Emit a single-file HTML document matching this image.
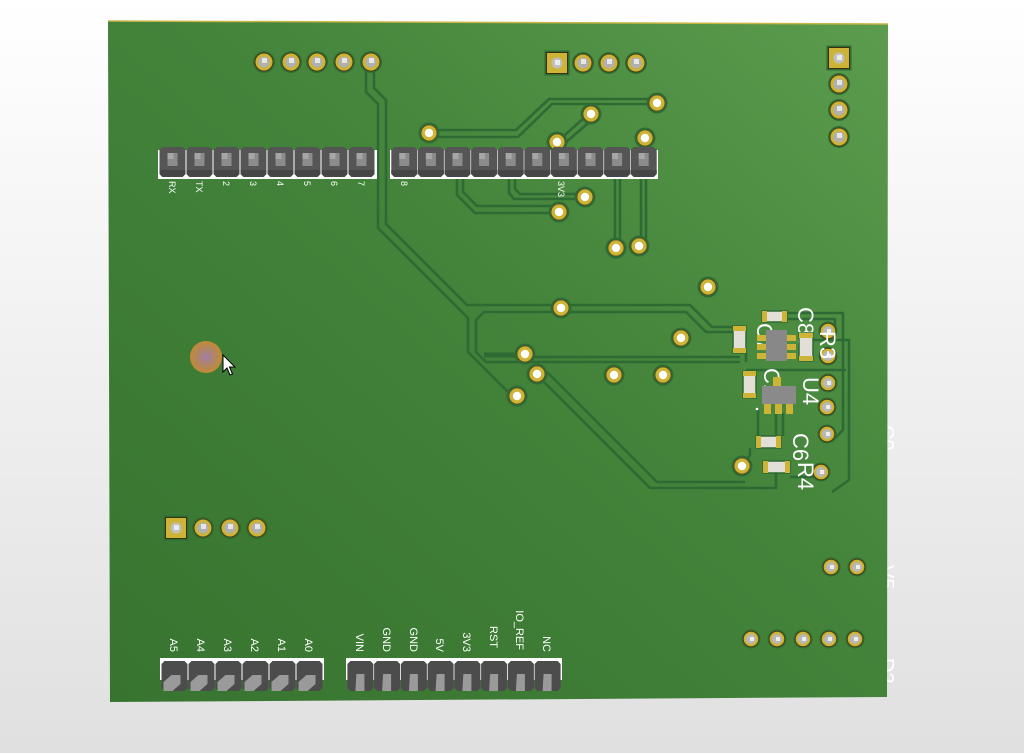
<!DOCTYPE html>
<html><head><meta charset="utf-8"><style>
html,body{margin:0;padding:0;width:1024px;height:753px;overflow:hidden;background:#eee}
svg{display:block}
text{font-family:"Liberation Sans",sans-serif;fill:#fff}
</style></head><body>
<svg width="1024" height="753" viewBox="0 0 1024 753" xmlns="http://www.w3.org/2000/svg">
<defs>
<linearGradient id="bg" x1="0" y1="0" x2="0" y2="1">
<stop offset="0" stop-color="#ffffff"/><stop offset="1" stop-color="#e0e0e0"/>
</linearGradient>
<linearGradient id="brd" x1="1" y1="0" x2="0" y2="1">
<stop offset="0" stop-color="#5c9c4e"/><stop offset="0.45" stop-color="#43833a"/><stop offset="1" stop-color="#377430"/>
</linearGradient>
<radialGradient id="blob" cx="0.5" cy="0.5" r="0.5">
<stop offset="0" stop-color="#a07ea8"/><stop offset="0.6" stop-color="#b2865e"/><stop offset="1" stop-color="#c48a34"/>
</radialGradient>
<g id="via"><circle r="10.5" fill="#2f6b35"/><circle r="8" fill="#cdb336" stroke="#5a4c14" stroke-width="0.8"/><circle r="4.2" fill="#fff"/></g>
<g id="pp"><circle r="11" fill="#2f6b35"/><circle r="9" fill="#cdb336" stroke="#4a4010" stroke-width="1"/><circle r="5.5" fill="#b0b0b0"/><rect x="-2" y="-4" width="5" height="5" fill="#e6e6e6"/></g>
<g id="ps"><circle r="9.5" fill="#2f6b35"/><circle r="7.8" fill="#cdb336" stroke="#4a4010" stroke-width="1"/><circle r="5" fill="#b8b8b8"/><rect x="-1" y="-2" width="4" height="4" fill="#eee"/></g>
<g id="sq"><rect x="-12.5" y="-12.5" width="25" height="25" fill="#2f6b35"/><rect x="-10.5" y="-10.5" width="21" height="21" fill="#cdb336" stroke="#3a3010" stroke-width="1"/><circle r="5.5" fill="#c0c0c0"/><rect x="-2" y="-3" width="5" height="5" fill="#ececec"/></g>
<g id="tp">
<polygon points="-13,-12 -10,-15 10,-15 13,-12 13,12 10,15 -10,15 -13,12" fill="#555"/>
<polygon points="-13,8 13,8 13,12 10,15 -10,15 -13,12" fill="#464646"/>
<rect x="-5" y="-9" width="10" height="13" fill="#8c8c8c"/>
<rect x="-5" y="-9" width="6" height="6" fill="#a6a6a6"/>
</g>
<g id="bpl">
<polygon points="-13,-12 -10,-15 10,-15 13,-12 13,12 10,15 -10,15 -13,12" fill="#4c4c4c"/>
<polygon points="-11,15 -11,6 -3,-1 6,-1 6,8 -2,15" fill="#9a9a9a"/>
</g>
<g id="bpr">
<polygon points="-13,-12 -10,-15 10,-15 13,-12 13,12 10,15 -10,15 -13,12" fill="#4c4c4c"/>
<polygon points="-5,15 -4,-2 4,-2 4,15" fill="#9a9a9a"/>
</g>
</defs>

<rect width="1024" height="753" fill="url(#bg)"/>

<!-- off-board labels -->
<g font-size="20">
<text transform="translate(880,425) rotate(90)">C0</text>
<text transform="translate(880,565) rotate(90)">V5</text>
<text transform="translate(880,658) rotate(90)">D2</text>
</g>

<!-- board -->
<polygon points="108,21 888,24 887,697 110,702" fill="url(#brd)"/>
<polyline points="108,21 888,24" stroke="#c9b545" stroke-width="1.5" fill="none"/>

<!-- traces -->
<g stroke="#2d6a34" stroke-width="2.6" fill="none" stroke-linejoin="round">
<path d="M366,62 V92 L378,104 V228 L468,318 V352 L510,394"/>
<path d="M374,62 V88 L386,100 V224 L467,305 H690 L712,327 H735"/>
<path d="M735,332 H706 L686,312 H484 L476,320 V352 L486,362 H740"/>
<path d="M525,357 H740"/>
<path d="M540,378 L650,488 H776 V473"/>
<path d="M547,372 L657,482 H745"/>
<path d="M429,130 H516 L549,99 H657"/>
<path d="M429,137 H518 L552,104 H650"/>
<path d="M585,117 L557,142"/>
<path d="M595,117 L563,145"/>
<path d="M457,177 V195 L475,213 H552"/>
<path d="M463,177 V192 L477,206 H552"/>
<path d="M509,177 V193 L514,199 H580"/>
<path d="M515,177 V189 L520,194 H580"/>
<path d="M615,177 V248"/><path d="M620,177 V244"/>
<path d="M641,177 V246"/><path d="M646,177 V240"/>
<path d="M787,313 H843 V430 L832,441"/>
<path d="M787,319 H835 V326"/>
<path d="M813,340 H849 V480 L832,492"/>
<path d="M746,370 H846"/>
<path d="M758,410 V440"/>
<path d="M750,448 V455 L742,466"/>
<path d="M790,477 H815 L821,472"/>
<path d="M776,413 V436"/><path d="M783,413 V436"/>
<path d="M746,352 V362"/>
</g>
<path d="M484,355 H520" stroke="#2d6a34" stroke-width="5"/>

<!-- top-left single pins -->
<use href="#pp" x="264" y="62"/><use href="#pp" x="291" y="62"/><use href="#pp" x="317" y="62"/><use href="#pp" x="344" y="62"/><use href="#pp" x="371" y="62"/>
<!-- top 4 -->
<use href="#sq" x="557" y="63"/><use href="#pp" x="583" y="63"/><use href="#pp" x="609" y="63"/><use href="#pp" x="636" y="63"/>
<!-- right column -->
<use href="#sq" x="839" y="58"/><use href="#pp" x="839" y="84"/><use href="#pp" x="839" y="110"/><use href="#pp" x="839" y="137"/>
<!-- left bottom 4 -->
<use href="#sq" x="176" y="528"/><use href="#pp" x="203" y="528"/><use href="#pp" x="230" y="528"/><use href="#pp" x="257" y="528"/>
<!-- right bottom -->
<use href="#ps" x="831" y="567"/><use href="#ps" x="857" y="567"/>
<use href="#ps" x="751" y="639"/><use href="#ps" x="777" y="639"/><use href="#ps" x="803" y="639"/><use href="#ps" x="829" y="639"/><use href="#ps" x="855" y="639"/>

<!-- vias -->
<use href="#via" x="429" y="133"/><use href="#via" x="657" y="103"/><use href="#via" x="591" y="114"/><use href="#via" x="557" y="142"/><use href="#via" x="645" y="138"/>
<use href="#via" x="585" y="197"/><use href="#via" x="559" y="212"/><use href="#via" x="616" y="248"/><use href="#via" x="639" y="246"/>
<use href="#via" x="708" y="287"/><use href="#via" x="561" y="308"/><use href="#via" x="681" y="338"/><use href="#via" x="525" y="354"/>
<use href="#via" x="537" y="374"/><use href="#via" x="517" y="396"/><use href="#via" x="614" y="375"/><use href="#via" x="663" y="375"/>
<use href="#via" x="742" y="466"/>
<use href="#ps" x="828" y="331"/><use href="#ps" x="828" y="356"/><use href="#ps" x="828" y="383"/><use href="#ps" x="827" y="407"/><use href="#ps" x="827" y="434"/><use href="#ps" x="821" y="472"/>

<!-- silkscreen labels cluster (under parts) -->
<g font-size="22">
<text transform="translate(798,307) rotate(90)">C85</text>
<text transform="translate(820,331) rotate(90)">R3</text>
<text transform="translate(757,323) rotate(90)">C7</text>
<text transform="translate(764,368) rotate(90)">C1</text>
<text transform="translate(803,377) rotate(90)">U4</text>
<text transform="translate(793,433) rotate(90)">C6</text>
<text transform="translate(798,462) rotate(90)">R4</text>
</g>

<!-- SMD parts -->
<g stroke="#2c6a33" stroke-width="1.5">
<rect x="762" y="311" width="25" height="11" fill="#e2e0d6"/>
<rect x="733" y="326" width="13" height="27" fill="#e2e0d6"/>
<rect x="799" y="333" width="14" height="28" fill="#e2e0d6"/>
<rect x="743" y="371" width="13" height="27" fill="#e2e0d6"/>
<rect x="756" y="436" width="25" height="12" fill="#e2e0d6"/>
<rect x="763" y="461" width="27" height="12" fill="#e2e0d6"/>
</g>
<g fill="#cdb336">
<rect x="762" y="311" width="5" height="11"/><rect x="782" y="311" width="5" height="11"/>
<rect x="733" y="326" width="13" height="5"/><rect x="733" y="348" width="13" height="5"/>
<rect x="799" y="333" width="14" height="5"/><rect x="799" y="356" width="14" height="5"/>
<rect x="743" y="371" width="13" height="5"/><rect x="743" y="393" width="13" height="5"/>
<rect x="756" y="436" width="5" height="12"/><rect x="776" y="436" width="5" height="12"/>
<rect x="763" y="461" width="5" height="12"/><rect x="785" y="461" width="5" height="12"/>
<rect x="757" y="335" width="10" height="6"/><rect x="757" y="344" width="10" height="6"/><rect x="757" y="353" width="10" height="6"/>
<rect x="786" y="335" width="10" height="6"/><rect x="786" y="344" width="10" height="6"/><rect x="786" y="353" width="10" height="6"/>
<rect x="773" y="377" width="8" height="10"/>
<rect x="764" y="403" width="7" height="11"/><rect x="775" y="403" width="7" height="11"/><rect x="786" y="403" width="7" height="11"/>
</g>
<rect x="766" y="330" width="21" height="31" fill="#888"/>
<rect x="762" y="386" width="34" height="18" fill="#8a8a8a"/>
<circle cx="757" cy="409" r="1.3" fill="#fff"/>

<!-- top header 1 -->
<rect x="158" y="150" width="219" height="29" fill="#fff"/>
<g>
<use href="#tp" x="172.5" y="162"/><use href="#tp" x="199.5" y="162"/><use href="#tp" x="226.5" y="162"/><use href="#tp" x="253.5" y="162"/>
<use href="#tp" x="280.5" y="162"/><use href="#tp" x="307.5" y="162"/><use href="#tp" x="334.5" y="162"/><use href="#tp" x="361.5" y="162"/>
</g>
<!-- top header 2 -->
<rect x="390" y="150" width="268" height="29" fill="#fff"/>
<g>
<use href="#tp" x="404.3" y="162"/><use href="#tp" x="430.9" y="162"/><use href="#tp" x="457.5" y="162"/><use href="#tp" x="484.1" y="162"/><use href="#tp" x="510.7" y="162"/>
<use href="#tp" x="537.3" y="162"/><use href="#tp" x="563.9" y="162"/><use href="#tp" x="590.5" y="162"/><use href="#tp" x="617.1" y="162"/><use href="#tp" x="643.7" y="162"/>
</g>
<g font-size="9">
<text transform="translate(169,181) rotate(90)">RX</text>
<text transform="translate(196,181) rotate(90)">TX</text>
<text transform="translate(223,181) rotate(90)">2</text>
<text transform="translate(250,181) rotate(90)">3</text>
<text transform="translate(277,181) rotate(90)">4</text>
<text transform="translate(304,181) rotate(90)">5</text>
<text transform="translate(331,181) rotate(90)">6</text>
<text transform="translate(358,181) rotate(90)">7</text>
<text transform="translate(401,181) rotate(90)">8</text>
<text transform="translate(558,181) rotate(90)">3V3</text>
</g>

<!-- bottom headers -->
<rect x="160" y="658" width="164" height="22" fill="#fff"/>
<use href="#bpl" x="174.5" y="676"/><use href="#bpl" x="201.5" y="676"/><use href="#bpl" x="228.5" y="676"/><use href="#bpl" x="255.5" y="676"/><use href="#bpl" x="282.5" y="676"/><use href="#bpl" x="309.5" y="676"/>
<rect x="346" y="658" width="216" height="22" fill="#fff"/>
<use href="#bpr" x="360.4" y="676"/><use href="#bpr" x="387.1" y="676"/><use href="#bpr" x="413.9" y="676"/><use href="#bpr" x="440.6" y="676"/>
<use href="#bpr" x="467.4" y="676"/><use href="#bpr" x="494.1" y="676"/><use href="#bpr" x="520.9" y="676"/><use href="#bpr" x="547.6" y="676"/>
<g font-size="11">
<text transform="translate(170,652) rotate(90)" text-anchor="end">A5</text>
<text transform="translate(197,652) rotate(90)" text-anchor="end">A4</text>
<text transform="translate(224,652) rotate(90)" text-anchor="end">A3</text>
<text transform="translate(251,652) rotate(90)" text-anchor="end">A2</text>
<text transform="translate(278,652) rotate(90)" text-anchor="end">A1</text>
<text transform="translate(305,652) rotate(90)" text-anchor="end">A0</text>
<text transform="translate(356,652) rotate(90)" text-anchor="end">VIN</text>
<text transform="translate(383,652) rotate(90)" text-anchor="end">GND</text>
<text transform="translate(410,652) rotate(90)" text-anchor="end">GND</text>
<text transform="translate(436,652) rotate(90)" text-anchor="end">5V</text>
<text transform="translate(463,652) rotate(90)" text-anchor="end">3V3</text>
<text transform="translate(490,648) rotate(90)" text-anchor="end">RST</text>
<text transform="translate(516,650) rotate(90)" text-anchor="end">IO_REF</text>
<text transform="translate(543,652) rotate(90)" text-anchor="end">NC</text>
</g>

<!-- highlight blob & cursor -->
<circle cx="206" cy="357" r="16" fill="url(#blob)"/>
<polygon points="223,355 223,372 227,368 230,375 232.5,374 229.5,367 235,367" fill="#fff" stroke="#000" stroke-width="1"/>
</svg>
</body></html>
